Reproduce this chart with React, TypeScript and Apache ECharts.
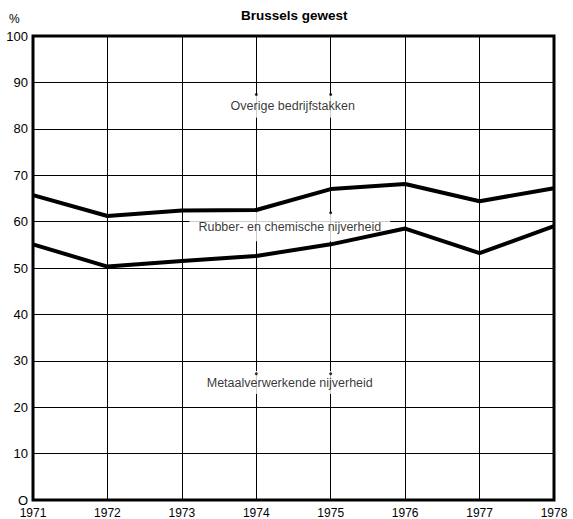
import React, { useEffect, useRef } from "react";
import * as echarts from "echarts";

const years = [1971, 1972, 1973, 1974, 1975, 1976, 1977, 1978];
// upper boundary: Metaal + Rubber/chemie (cumulative %)
const upperLine = [65.7, 61.2, 62.4, 62.5, 67.0, 68.1, 64.4, 67.2];
// lower boundary: Metaalverwerkende nijverheid (%)
const lowerLine = [55.1, 50.3, 51.5, 52.6, 55.1, 58.5, 53.2, 59.0];
const yTicks = [0, 10, 20, 30, 40, 50, 60, 70, 80, 90, 100];
const annotationNames = [
  "Overige bedrijfstakken",
  "Rubber- en chemische nijverheid",
  "Metaalverwerkende nijverheid",
];
const annotationX = [1974.49, 1974.45, 1974.45];
const annotationY = [84.85, 58.9, 25.3];
const breakEndX = [1974, 1975, 1974, 1975, 1975];
const breakEndY = [87.4, 87.4, 27.2, 27.2, 61.9];

const FONT = "'Liberation Sans', Arial, Helvetica, sans-serif";

export default function App() {
  const ref = useRef<HTMLDivElement>(null);
  useEffect(() => {
    document.body.style.margin = "0";
    const chart = echarts.init(ref.current!, null, { renderer: "svg" });
    const padV = [5, 8, 5];
    const padH = [7, 9, 7];
    chart.setOption({
      animation: false,
      backgroundColor: "#fff",
      textStyle: { fontFamily: FONT, color: "#000" },
      title: {
        text: "Brussels gewest",
        left: 241,
        top: 8,
        padding: 0,
        textStyle: { fontFamily: FONT, fontSize: 13.5, fontWeight: "bold", color: "#000" },
      },
      graphic: [
        {
          type: "text",
          left: 9,
          top: 13,
          style: { text: "%", fontFamily: FONT, fontSize: 12, fill: "#000" },
        },
      ],
      grid: {
        left: 33,
        right: 19,
        top: 36,
        bottom: 19,
        show: true,
        borderColor: "#000",
        borderWidth: 3,
        backgroundColor: "transparent",
      },
      xAxis: {
        type: "value",
        min: years[0],
        max: years[years.length - 1],
        interval: 1,
        axisLine: { show: false },
        axisTick: { show: false },
        splitLine: { show: true, lineStyle: { color: "#000", width: 1 } },
        axisLabel: {
          margin: 7,
          fontSize: 12,
          color: "#000",
          fontFamily: FONT,
          formatter: (v: number) => String(v),
        },
      },
      yAxis: {
        type: "value",
        min: yTicks[0],
        max: yTicks[yTicks.length - 1],
        interval: 10,
        axisLine: { show: false },
        axisTick: { show: false },
        splitLine: { show: true, lineStyle: { color: "#000", width: 1 } },
        axisLabel: {
          margin: 5,
          fontSize: 13,
          color: "#000",
          fontFamily: FONT,
          formatter: (v: number) => (v === 0 ? "O" : String(v)),
        },
      },
      series: [
        {
          type: "scatter",
          z: 1,
          symbolSize: 0,
          silent: true,
          data: annotationNames.map((n, i) => ({
            name: n,
            value: [annotationX[i], annotationY[i]],
            label: {
              show: true,
              position: "inside",
              formatter: n,
              color: "#000",
              fontSize: 12.5,
              fontFamily: FONT,
              backgroundColor: "#fff",
              padding: [padV[i], padH[i]],
            },
          })),
        },
        {
          type: "line",
          z: 3,
          data: years.map((y, i) => [y, upperLine[i]]),
          symbol: "none",
          lineStyle: { color: "#000", width: 4 },
        },
        {
          type: "line",
          z: 3,
          data: years.map((y, i) => [y, lowerLine[i]]),
          symbol: "none",
          lineStyle: { color: "#000", width: 4 },
        },
        {
          type: "scatter",
          z: 4,
          symbolSize: 3,
          silent: true,
          itemStyle: { color: "#000" },
          data: breakEndX.map((x, i) => [x, breakEndY[i]]),
        },
      ],
    });
    return () => chart.dispose();
  }, []);
  return <div ref={ref} style={{ width: 573, height: 519 }} />;
}
